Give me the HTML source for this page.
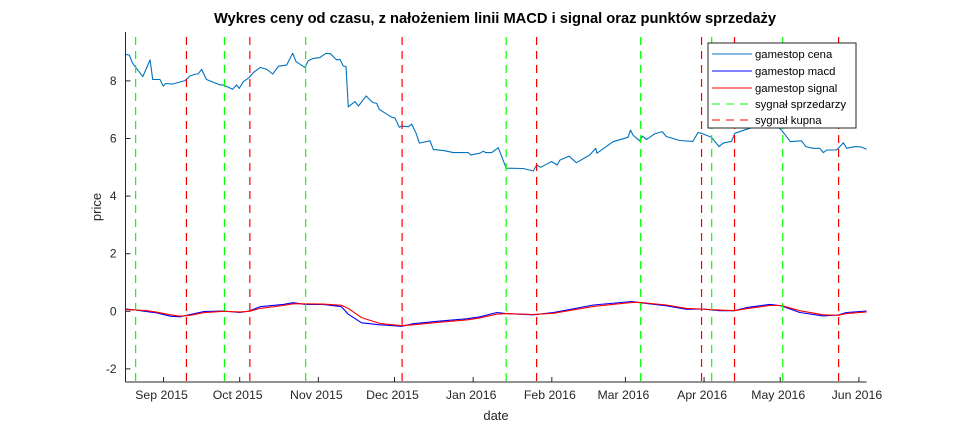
<!DOCTYPE html>
<html><head><meta charset="utf-8"><style>
body{margin:0;background:#fff;}
svg{display:block;font-family:"Liberation Sans",sans-serif;}
</style></head><body>
<svg id="c" width="958" height="430" viewBox="0 0 958 430">
<rect x="0" y="0" width="958" height="430" fill="#fff"/>
<text x="495" y="23" text-anchor="middle" font-size="14.7" font-weight="bold" fill="#000">Wykres ceny od czasu, z nałożeniem linii MACD i signal oraz punktów sprzedaży</text>
<g id="plot"></g>
<text x="101" y="207" text-anchor="middle" font-size="13" fill="#262626" transform="rotate(-90 101 207)">price</text>
<text x="496" y="420" text-anchor="middle" font-size="13" fill="#262626">date</text>
<g>
<rect x="708" y="43" width="148" height="85" fill="#fff" stroke="#262626" stroke-width="1"/>
<line x1="712" y1="54" x2="752" y2="54" stroke="#0072bd"/>
<text x="755" y="58" font-size="11.3" fill="#000">gamestop cena</text>
<line x1="712" y1="71" x2="752" y2="71" stroke="#0000ff"/>
<text x="755" y="75" font-size="11.3" fill="#000">gamestop macd</text>
<line x1="712" y1="88" x2="752" y2="88" stroke="#ff0000"/>
<text x="755" y="92" font-size="11.3" fill="#000">gamestop signal</text>
<line x1="712" y1="104" x2="752" y2="104" stroke="#00ff00" stroke-dasharray="8,6"/>
<text x="755" y="108" font-size="11.3" fill="#000">sygnał sprzedarzy</text>
<line x1="712" y1="120" x2="752" y2="120" stroke="#ff0000" stroke-dasharray="8,6"/>
<text x="755" y="124" font-size="11.3" fill="#000">sygnał kupna</text>
</g>
</svg>
<script>
// days since 2015-08-17
const priceDays=[0,1.5,2.8,6.8,9.7,10.7,13.6,14.9,15.9,18.5,23.4,25.4,27.7,28.6,30,31.9,37.2,38.5,42.2,43.8,44.8,46.4,48.8,50.4,53.1,55.7,58,60.3,63.5,65.9,67.2,70.7,72,74,76.6,79,80.8,83.2,84.5,85.8,86.9,87.8,90.4,91.8,94.8,97.4,99,100,104.9,106.2,107.9,108.8,111.5,112.8,114.5,115.8,120,121.3,125.3,129.2,135.1,136,139.7,141,142,144.3,146.9,150,156.7,160.7,162,163.6,167.9,170.1,171.2,174.8,177.7,183,185.3,185.8,192.1,198,199,200,202.6,203.7,205.3,208.5,211.5,213.1,218.4,223.6,225.6,226.9,230.9,233.9,235.5,238.8,240.1,244.7,247.3,251,255,258.5,262,266.4,268.1,271,273.6,275,276.3,280.2,282.9,284.2,287.5,290.1,292];
const priceVals=[8.92,8.90,8.61,8.15,8.73,8.05,8.05,7.82,7.91,7.89,8.01,8.17,8.24,8.24,8.40,8.05,7.86,7.86,7.71,7.86,7.74,7.97,8.12,8.29,8.47,8.40,8.24,8.51,8.55,8.96,8.67,8.47,8.70,8.78,8.81,8.96,8.94,8.73,8.75,8.52,8.50,7.10,7.28,7.13,7.48,7.25,7.22,7.01,6.74,6.71,6.39,6.43,6.41,6.50,6.18,5.84,5.92,5.62,5.58,5.51,5.51,5.43,5.49,5.56,5.51,5.51,5.68,4.97,4.96,4.87,5.08,5.00,5.20,5.08,5.25,5.39,5.16,5.43,5.66,5.49,5.89,6.04,6.29,6.12,5.92,6.08,5.97,6.16,6.24,6.07,5.93,5.90,6.21,6.18,6.04,5.72,5.84,5.90,6.18,6.32,6.39,6.48,6.55,6.29,5.89,5.92,5.72,5.66,5.66,5.51,5.60,5.60,5.85,5.66,5.72,5.70,5.63];
const macdDays=[0,3.8,8.4,12.4,17.6,21.5,25.5,30.7,38.5,45.1,48.8,53,62.2,66.1,70.7,77.9,85.1,87.8,93,100.2,108.8,113.4,123.9,134.4,139.7,146.3,149.9,160.7,168.6,184.4,199.5,202.7,213.2,221.1,227,234.2,239.9,244.7,253.9,258.5,265.7,274.9,280.8,284.1,292];
const macdVals=[0.08,0.05,-0.01,-0.06,-0.17,-0.19,-0.11,-0.01,0.01,-0.04,0.01,0.16,0.24,0.30,0.24,0.24,0.16,-0.10,-0.40,-0.47,-0.52,-0.43,-0.34,-0.26,-0.19,-0.04,-0.08,-0.12,-0.04,0.22,0.34,0.30,0.19,0.07,0.08,0.02,0.02,0.13,0.24,0.19,-0.04,-0.16,-0.13,-0.04,0.01];
const signalVals=[0.06,0.05,0.02,-0.03,-0.12,-0.17,-0.14,-0.05,0.00,-0.02,0.00,0.10,0.20,0.26,0.26,0.25,0.21,0.10,-0.22,-0.42,-0.50,-0.47,-0.38,-0.30,-0.23,-0.10,-0.08,-0.11,-0.07,0.17,0.31,0.31,0.22,0.10,0.08,0.04,0.02,0.09,0.20,0.20,0.02,-0.12,-0.14,-0.08,-0.02];
const sellDays=[4,39,71,150,203,231,259];
const buyDays=[24,49,109,162,227,240,281];
const yTicks=[-2,0,2,4,6,8];
const xTickDays=[15,45,76,106,137,168,197,228,258,289];
const xTickLabels=["Sep 2015","Oct 2015","Nov 2015","Dec 2015","Jan 2016","Feb 2016","Mar 2016","Apr 2016","May 2016","Jun 2016"];

const L=125.5,R=866.5,T=32,B=382,D0=0,D1=292;
const sx=d=>L+(d-D0)/(D1-D0)*(R-L);
const sy=v=>311.3-v*28.8;
const NS="http://www.w3.org/2000/svg";
const g=document.getElementById('plot');
function mk(t,a){const e=document.createElementNS(NS,t);for(const k in a)e.setAttribute(k,a[k]);g.appendChild(e);return e;}
function poly(days,vals,color,name){
  const e=mk('polyline',{points:days.map((d,i)=>sx(d).toFixed(1)+','+sy(vals[i]).toFixed(1)).join(' '),fill:'none',stroke:color,'stroke-width':1.1,'stroke-linejoin':'round'});
  
  
}
poly(priceDays,priceVals,'#0072bd','price-line');
poly(macdDays,macdVals,'#0000ff','macd-line');
poly(macdDays,signalVals,'#ff0000','signal-line');
sellDays.forEach(d=>{
  const e=mk('line',{x1:sx(d),x2:sx(d),y1:T+5,y2:B,stroke:'#00ff00','stroke-dasharray':'8,6','stroke-width':1.2});
  
  
});
buyDays.forEach(d=>{
  const e=mk('line',{x1:sx(d),x2:sx(d),y1:T+5,y2:B,stroke:'#ff0000','stroke-dasharray':'8,6','stroke-width':1.2});
  
  
});
const ya=mk('line',{x1:L,x2:L,y1:T,y2:B,stroke:'#262626'});


const xa=mk('line',{x1:L,x2:R,y1:B,y2:B,stroke:'#262626'});


yTicks.forEach(v=>{
  mk('line',{x1:L,x2:L+5,y1:sy(v),y2:sy(v),stroke:'#262626'});
  const t=mk('text',{x:L-9,y:sy(v)+4,'text-anchor':'end','font-size':12,fill:'#262626'});
  t.textContent=v;
  
  
});
xTickDays.forEach((d,i)=>{
  mk('line',{x1:sx(d),x2:sx(d),y1:B,y2:B-5,stroke:'#262626'});
  const t=mk('text',{x:sx(d)-2,y:B+17,'text-anchor':'middle','font-size':12.3,fill:'#262626'});
  t.textContent=xTickLabels[i];
  
  
});
</script>
</body></html>
